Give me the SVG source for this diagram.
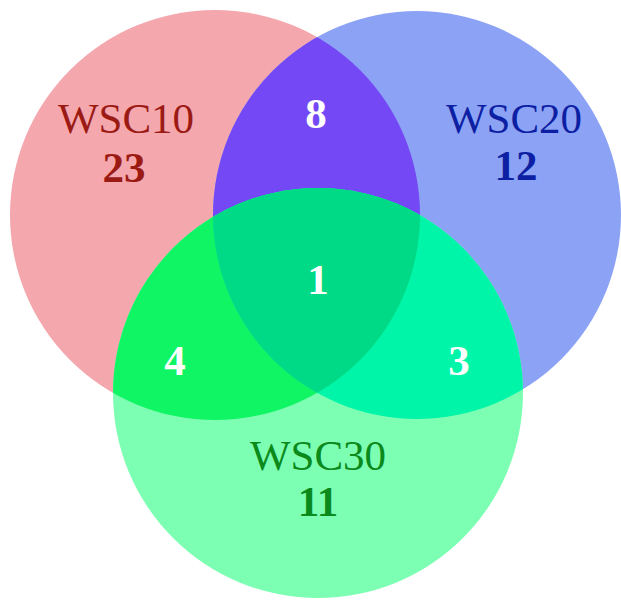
<svg xmlns="http://www.w3.org/2000/svg" width="621" height="601" viewBox="0 0 621 601">
<style>
.lbl{font-family:"Liberation Serif","Times New Roman",serif;text-anchor:middle;font-size:43px}
.num{font-family:"Liberation Serif","Times New Roman",serif;text-anchor:middle;font-weight:bold;font-size:43px}
.w{fill:#ffffff}
</style>
<defs>
<clipPath id="cR"><circle cx="215" cy="215" r="205"/></clipPath>
<clipPath id="cB"><circle cx="417" cy="215" r="204"/></clipPath>
<clipPath id="cG"><circle cx="318" cy="393" r="205"/></clipPath>
</defs>
<rect width="621" height="601" fill="#ffffff"/>
<g id="set-wsc10">
<circle cx="215" cy="215" r="205" fill="#f4a7ad"/>
</g>
<g id="set-wsc20">
<circle cx="417" cy="215" r="204" fill="#8ca3f5"/>
</g>
<g id="set-wsc30">
<circle cx="318" cy="393" r="205" fill="#7dffb3"/>
</g>
<g id="overlaps">
<circle cx="417" cy="215" r="204" fill="#7448f5" clip-path="url(#cR)"/>
<circle cx="318" cy="393" r="205" fill="#10f563" clip-path="url(#cR)"/>
<circle cx="318" cy="393" r="205" fill="#00f5a8" clip-path="url(#cB)"/>
<g clip-path="url(#cR)"><circle cx="318" cy="393" r="205" fill="#00d985" clip-path="url(#cB)"/></g>
</g>
<g id="labels">
<text class="lbl" x="126" y="133" fill="#9b1a14">WSC10</text>
<text class="num" x="124" y="182" fill="#9b1a14">23</text>
<text class="lbl" x="514" y="133" fill="#0d1fa3">WSC20</text>
<text class="num" x="516" y="180" fill="#0d1fa3">12</text>
<text class="lbl" x="318" y="470" fill="#0b8a1c">WSC30</text>
<text class="num" x="318" y="516" fill="#0b8a1c">11</text>
<text class="num w" x="316" y="128">8</text>
<text class="num w" x="318" y="294">1</text>
<text class="num w" x="175" y="375">4</text>
<text class="num w" x="459" y="375">3</text>
</g>
</svg>
